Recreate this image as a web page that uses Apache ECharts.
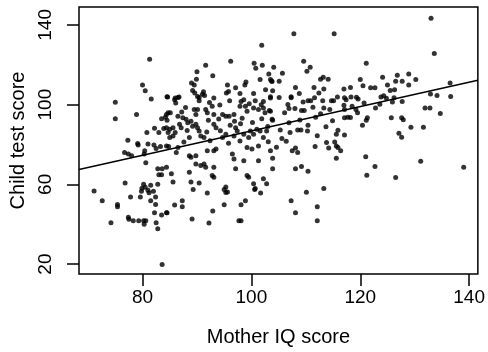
<!DOCTYPE html>
<html>
<head>
<meta charset="utf-8">
<script src="https://cdn.jsdelivr.net/npm/echarts@6/dist/echarts.min.js"></script>
<style>
  html, body { margin: 0; padding: 0; background: #fff; }
  #chart { width: 488px; height: 352px; }
</style>
</head>
<body>
<div id="chart"></div>
<script>
// [mother IQ, child test score]
const scores = [
  [81.3,122.7],[80.0,109.8],[80.5,107.0],[84.5,104.0],[81.6,102.8],
  [101.9,129.8],[96.2,121.7],[91.6,119.7],[100.5,120.8],[100.8,118.3],[102.0,119.7],[90.0,116.5],
  [92.9,114.5],[89.9,112.7],[103.2,115.4],[89.0,110.8],[89.5,109.8],[99.0,111.4],[98.8,109.8],
  [101.6,112.6],[103.5,112.6],[103.8,111.6],[95.6,109.8],[97.1,108.4],[97.9,105.6],[95.4,105.8],
  [95.8,106.6],[91.2,106.5],[91.0,105.2],[91.4,104.6],[89.2,107.1],[89.6,105.8],[90.4,103.6],
  [100.4,105.6],[102.6,107.4],[103.5,103.9],[84.6,103.8],[86.0,103.3],[86.7,103.8],
  [107.8,135.5],[115.2,135.5],[109.6,121.7],[110.8,118.7],[110.2,116.7],[104.1,118.7],[105.7,115.7],
  [103.7,111.9],[105.1,111.7],[121.1,120.7],[112.7,112.7],[113.2,113.7],[114.1,112.7],[120.0,112.6],
  [120.5,109.4],[121.9,108.4],[122.7,108.4],[108.1,108.6],[111.5,108.6],[113.3,107.8],[103.9,106.9],
  [108.8,105.6],[112.4,105.8],[117.0,107.8],[118.2,108.6],[107.3,104.0],[115.8,103.8],[118.3,103.8],
  [119.3,103.7],[117.1,103.4],[111.6,103.5],
  [133.0,143.3],[133.6,125.6],[128.9,115.4],[124.1,113.7],[126.8,114.7],[126.5,111.7],[127.7,111.7],
  [130.2,112.6],[128.9,109.8],[125.0,109.8],[125.5,107.1],[126.3,107.4],[136.5,110.8],[124.3,104.5],
  [123.8,103.8],[124.8,103.2],[126.2,103.5],[132.9,105.3],[134.1,104.6],[136.6,104.1],
  [122.8,98.3],[127.7,101.6],[125.9,101.3],[131.9,98.3],[132.8,98.3],[134.7,95.5],[125.7,93.4],
  [127.6,93.4],[127.9,92.4],[129.3,88.6],[131.6,88.6],[127.1,85.6],[127.6,83.6],[131.1,71.6],
  [139.0,68.6],[126.5,63.5],
  [105.1,103.6],[107.3,103.4],[109.5,101.3],[110.4,102.0],[110.9,102.0],[113.1,102.0],[114.7,102.0],
  [115.1,102.0],[117.4,102.5],[119.6,102.8],[120.7,100.8],[106.7,100.0],[106.9,98.0],[108.0,98.0],
  [109.2,97.0],[109.7,97.0],[111.3,98.7],[113.3,98.3],[114.4,97.5],[117.0,99.7],[117.1,97.5],
  [119.2,97.5],[119.5,95.9],[106.1,95.9],[103.3,97.0],[117.1,93.4],[117.7,93.7],[118.2,93.5],
  [121.3,93.4],[121.1,92.2],[112.7,95.4],[103.9,92.1],[106.9,90.9],[105.3,87.3],[107.1,86.0],
  [108.5,87.3],[109.1,87.3],[110.4,89.7],[110.3,86.8],[113.7,88.9],[115.9,87.1],[115.6,85.1],
  [117.1,84.8],[120.4,89.7],[111.7,79.0],[113.8,81.0],[114.2,78.2],[115.3,81.3],[115.6,79.3],
  [115.9,78.5],[116.4,76.8],[107.5,76.8],[108.1,78.2],[108.5,76.0],[103.9,73.1],[115.6,73.1],
  [121.0,73.9],[103.9,67.8],[108.1,67.8],[109.2,68.9],[110.4,66.6],[122.7,68.9],[121.2,64.6],
  [113.3,57.9],[110.1,56.0],
  [107.3,51.8],[108.1,45.8],[112.1,48.8],[112.1,41.8],
  [89.3,57.4],[91.9,55.7],[95.0,57.4],[95.3,55.9],[95.6,56.2],[100.6,57.4],[101.7,55.7],[84.5,45.8],
  [85.9,49.6],[87.3,51.8],[87.3,48.8],[89.1,42.6],[92.9,46.6],[95.0,49.8],[92.2,40.6],[98.1,49.8],
  [98.9,51.8],[97.7,41.8],[98.1,41.8],
  [71.1,56.7],[72.6,51.8],[74.2,40.8],[75.4,49.9],[75.4,48.8],[77.8,53.7],[77.4,43.5],[77.5,42.5],
  [78.3,41.8],[79.3,41.8],[80.2,41.8],[80.6,41.8],[80.3,40.0],[79.8,56.5],[80.5,58.5],[81.0,57.0],
  [81.5,59.5],[82.0,56.5],[80.2,60.0],[81.2,55.8],[79.9,58.0],[79.6,53.7],[81.5,51.8],[82.4,53.7],
  [82.4,49.9],[82.2,45.8],[83.5,44.6],[84.4,45.8],[82.5,40.8],[82.8,37.7],[83.6,19.8],
  [75.0,101.2],[75.0,92.9],[78.9,95.0],[83.5,92.9],[84.2,93.7],[84.5,92.1],[82.2,88.1],[80.8,86.0],
  [83.0,86.0],[83.9,88.0],[84.7,86.0],[77.3,82.1],[79.1,80.5],[79.2,79.8],[81.0,80.2],[82.1,79.8],
  [82.5,78.0],[83.3,79.0],[84.8,79.0],[80.4,76.8],[80.3,75.2],[76.7,76.0],[77.4,75.2],[78.0,74.4],
  [80.6,70.9],[82.8,67.8],[83.6,67.8],[83.0,64.8],[83.5,64.8],[76.8,60.7],[82.8,60.0],
  [86.5,103.6],[85.9,102.5],[90.1,104.1],[90.4,102.0],[93.1,103.3],[98.1,101.6],[98.6,102.5],
  [97.9,99.2],[98.9,99.2],[100.7,102.0],[102.2,101.6],[103.5,103.3],[84.7,95.9],[85.1,95.9],
  [84.4,95.0],[86.5,94.2],[87.4,93.4],[88.0,92.6],[88.3,90.9],[88.9,91.7],[89.5,97.5],[90.1,97.5],
  [89.8,95.0],[91.6,97.5],[91.9,95.9],[92.8,99.2],[93.1,95.0],[94.7,95.0],[95.3,94.2],[95.9,94.2],
  [96.8,95.0],[99.2,96.7],[100.4,98.3],[101.3,97.5],[102.2,98.3],[102.5,95.9],[103.5,96.7],
  [103.8,92.6],[84.4,88.4],[85.0,87.6],[85.6,88.4],[86.8,90.1],[87.1,88.4],[89.2,89.2],[89.8,90.1],
  [90.1,88.4],[90.4,86.8],[93.1,90.1],[93.5,88.4],[85.0,83.5],[85.6,84.3],[88.6,83.5],[90.7,84.3],
  [91.3,83.5],[97.1,88.4],[97.4,86.8],[96.8,84.3],[98.6,85.1],[99.5,83.5],[99.8,86.8],[100.4,85.1],
  [101.0,87.6],[101.6,86.8],[102.2,83.5],[102.8,86.8],[95.3,85.1],[94.7,83.5],[84.4,79.3],
  [86.5,78.5],[86.2,76.0],[88.6,74.4],[88.9,73.6],[89.8,74.4],[91.9,76.8],[93.1,76.8],[93.5,77.7],
  [96.5,75.2],[96.8,72.7],[99.2,78.5],[100.1,77.7],[101.3,79.3],[98.6,71.9],[101.3,71.9],
  [103.5,76.8],[89.8,70.2],[90.7,69.4],[91.3,70.2],[91.6,68.6],[88.6,66.1],[93.1,68.6],[84.4,68.6],
  [85.3,65.3],[92.8,64.4],[93.1,63.6],[97.1,67.8],[99.2,64.4],[99.5,63.6],[102.2,62.8],[102.8,60.3],
  [88.9,61.2],[90.4,60.7],[85.6,61.2],[100.7,57.9],[100.4,60.3],[95.3,58.7],
  [86.1,100.8],[87.9,98.6],[92.3,101.1],[94.2,99.8],[96.0,101.9],[99.6,100.4],[101.8,99.9],
  [87.2,96.3],[94.0,92.8],[96.9,91.6],[98.3,93.1],[100.2,91.0],[101.9,92.9],[92.1,92.1],
  [86.0,86.0],[88.2,87.0],[91.8,86.3],[94.3,86.9],[96.1,89.6],[98.0,90.4],[103.0,89.0],
  [87.6,81.2],[92.4,81.9],[95.8,80.6],[97.9,81.8],[103.1,81.4],[105.6,83.0],[104.6,78.6],
  [108.9,92.3],[111.8,93.6],[114.9,91.9],[112.1,84.4],[106.4,81.6],[118.5,99.2],[123.6,100.2]
];

// least-squares line drawn across the plot (intercept, slope)
const fitCoef = [25.8, 0.61];

const xRange = [68.33, 141.6];
const yRange = [15.04, 148.96];
const xTicks = [80, 100, 120, 140];
const yTicks = [20, 60, 100, 140];

const fitLine = xRange.map(x => [x, fitCoef[0] + fitCoef[1] * x]);

const chart = echarts.init(document.getElementById('chart'), null, { renderer: 'canvas' });

const font = 'Liberation Sans, Arial, Helvetica, sans-serif';

chart.setOption({
  animation: false,
  backgroundColor: '#fff',
  grid: {
    left: 79, top: 7, right: 6, bottom: 75,
    show: true, borderColor: '#000', borderWidth: 1.5
  },
  xAxis: {
    type: 'value',
    min: xRange[0], max: xRange[1],
    name: 'Mother IQ score',
    nameLocation: 'middle',
    nameGap: 53,
    nameTextStyle: { color: '#000', fontSize: 20, fontFamily: font },
    axisLine: { show: false },
    axisTick: { show: true, customValues: xTicks, length: 12, lineStyle: { color: '#000', width: 1.5 } },
    axisLabel: { customValues: xTicks, color: '#000', fontSize: 19, fontFamily: font, margin: 14 },
    splitLine: { show: false }
  },
  yAxis: {
    type: 'value',
    min: yRange[0], max: yRange[1],
    name: 'Child test score',
    nameLocation: 'middle',
    nameGap: 43,
    nameTextStyle: { color: '#000', fontSize: 20, fontFamily: font },
    axisLine: { show: false },
    axisTick: { show: true, customValues: yTicks, length: 12, lineStyle: { color: '#000', width: 1.5 } },
    axisLabel: { customValues: yTicks, rotate: 90, color: '#000', fontSize: 19, fontFamily: font, margin: 24 },
    splitLine: { show: false }
  },
  series: [
    {
      type: 'scatter',
      data: scores,
      symbol: 'circle',
      symbolSize: 5,
      itemStyle: { color: '#000' },
      silent: true
    },
    {
      type: 'line',
      data: fitLine,
      showSymbol: false,
      lineStyle: { color: '#000', width: 1.5 },
      silent: true
    }
  ]
});
</script>
</body>
</html>
